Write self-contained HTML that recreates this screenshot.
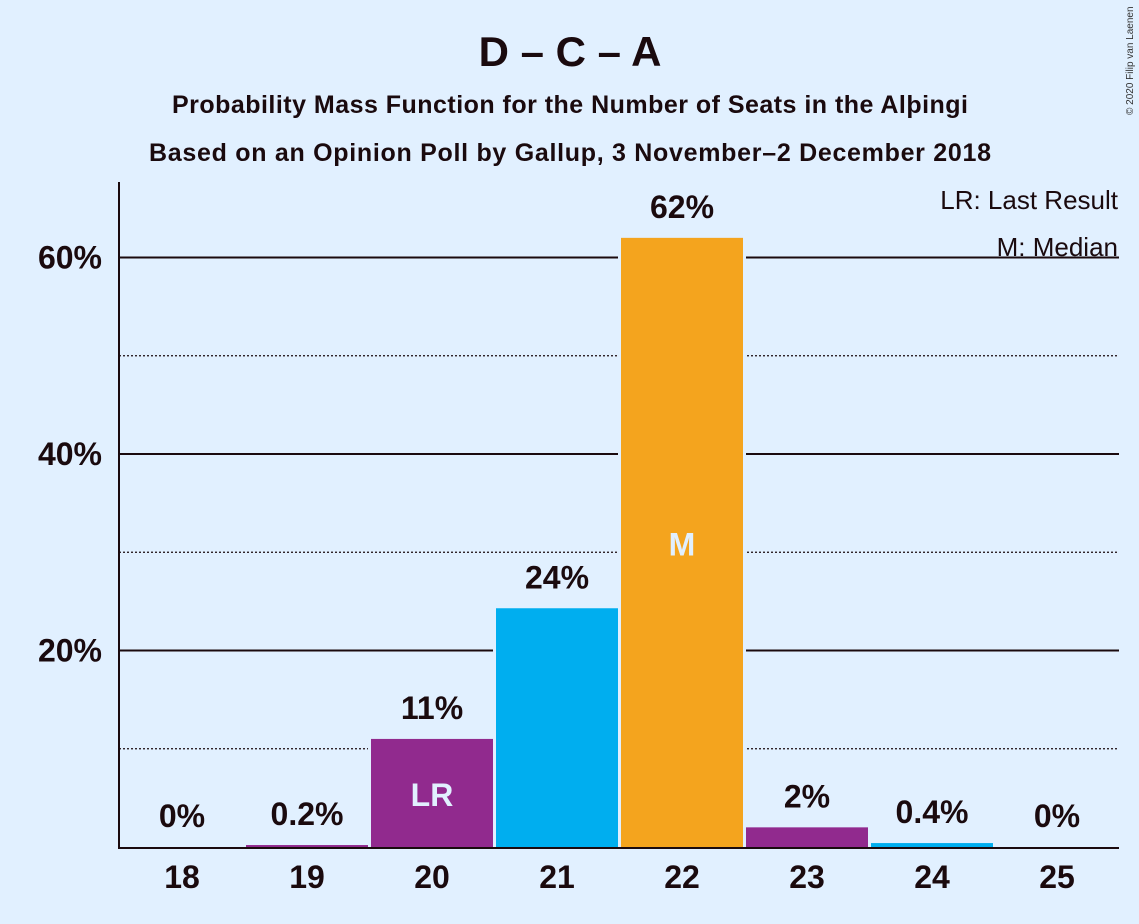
<!DOCTYPE html>
<html><head><meta charset="utf-8">
<style>
html,body{margin:0;padding:0;background:#E1F0FF;}
svg{display:block;font-family:"Liberation Sans",sans-serif;}
</style></head>
<body>
<svg id="chart" width="1139" height="924" viewBox="0 0 1139 924">
<rect width="1139" height="924" fill="#E1F0FF"/>
<text x="570" y="66" text-anchor="middle" font-size="42" font-weight="bold" fill="#1a0a0e">D – C – A</text>
<text x="570" y="113" text-anchor="middle" font-size="25" font-weight="bold" fill="#1a0a0e" textLength="796">Probability Mass Function for the Number of Seats in the Alþingi</text>
<text x="570" y="161" text-anchor="middle" font-size="25" font-weight="bold" fill="#1a0a0e" textLength="842">Based on an Opinion Poll by Gallup, 3 November–2 December 2018</text>
<text x="1133" y="115" font-size="10" fill="#333" transform="rotate(-90 1133 115)">© 2020 Filip van Laenen</text>
<g id="grid"></g>
<g id="bars"></g>
<g id="labels"></g>
<line x1="119" y1="182" x2="119" y2="848" stroke="#1a0a0e" stroke-width="2"/>
<line x1="118" y1="848" x2="1119" y2="848" stroke="#1a0a0e" stroke-width="2"/>
<text x="1118" y="209" text-anchor="end" font-size="26" fill="#1a0a0e">LR: Last Result</text>
<text x="1118" y="256" text-anchor="end" font-size="26" fill="#1a0a0e">M: Median</text>
</svg>
<script>
const seats = [18,19,20,21,22,23,24,25];
const probs = [0,0.2,11,24.3,62,2,0.4,0];
const valueLabels = ["0%","0.2%","11%","24%","62%","2%","0.4%","0%"];
const barColors = ["#912A8E","#912A8E","#912A8E","#00AEEF","#F4A41E","#912A8E","#00AEEF","#912A8E"];
const yTicks = [20,40,60];
const yMinor = [10,30,50];
const lastResult = 20;
const median = 22;

const NS="http://www.w3.org/2000/svg";
const y = v => 847 - v*9.825;
const x = s => 182 + (s-18)*125;
function mk(tag, attrs, parent, txt){
  const e=document.createElementNS(NS,tag);
  for(const k in attrs) e.setAttribute(k,attrs[k]);
  if(txt!==undefined) e.textContent=txt;
  document.getElementById(parent).appendChild(e);
  return e;
}
yMinor.forEach(v=>{
  const l=mk('line',{x1:119,x2:1119,y1:y(v),y2:y(v),stroke:'#1a0a0e','stroke-width':1.2,'stroke-dasharray':'2,2'},'grid');
  
  
});
yTicks.forEach(v=>{
  const l=mk('line',{x1:119,x2:1119,y1:y(v),y2:y(v),stroke:'#1a0a0e','stroke-width':2},'grid');
  
  
  const t=mk('text',{x:102,y:y(v)+11,'text-anchor':'end','font-size':32,'font-weight':'bold',fill:'#1a0a0e'},'labels',v+'%');
  
  
});
seats.forEach((s,i)=>{
  const top=y(probs[i]);
  if(probs[i]>0){
    const g=mk('rect',{x:x(s)-64,y:top-2,width:128,height:847-top+2,fill:'#E1F0FF'},'bars');
    
    
  }
  const r=mk('rect',{x:x(s)-61,y:top,width:122,height:847-top,fill:barColors[i]},'bars');
  
  
  const bg=mk('rect',{x:x(s)-50,y:top-50,width:100,height:40,fill:'#E1F0FF'},'labels');
  
  
  const t=mk('text',{x:x(s),y:top-20,'text-anchor':'middle','font-size':32,'font-weight':'bold',fill:'#1a0a0e'},'labels',valueLabels[i]);
  
  
  const xt=mk('text',{x:x(s),y:888,'text-anchor':'middle','font-size':32,'font-weight':'bold',fill:'#1a0a0e'},'labels',String(s));
  
  
  if(s===lastResult){
    const m=mk('text',{x:x(s),y:y(probs[i]/2)+13,'text-anchor':'middle','font-size':32,'font-weight':'bold',fill:'#E1F0FF'},'labels','LR');
    
    
  }
  if(s===median){
    const m=mk('text',{x:x(s),y:y(probs[i]/2)+13,'text-anchor':'middle','font-size':32,'font-weight':'bold',fill:'#E1F0FF'},'labels','M');
    
    
  }
});
</script>
</body></html>
